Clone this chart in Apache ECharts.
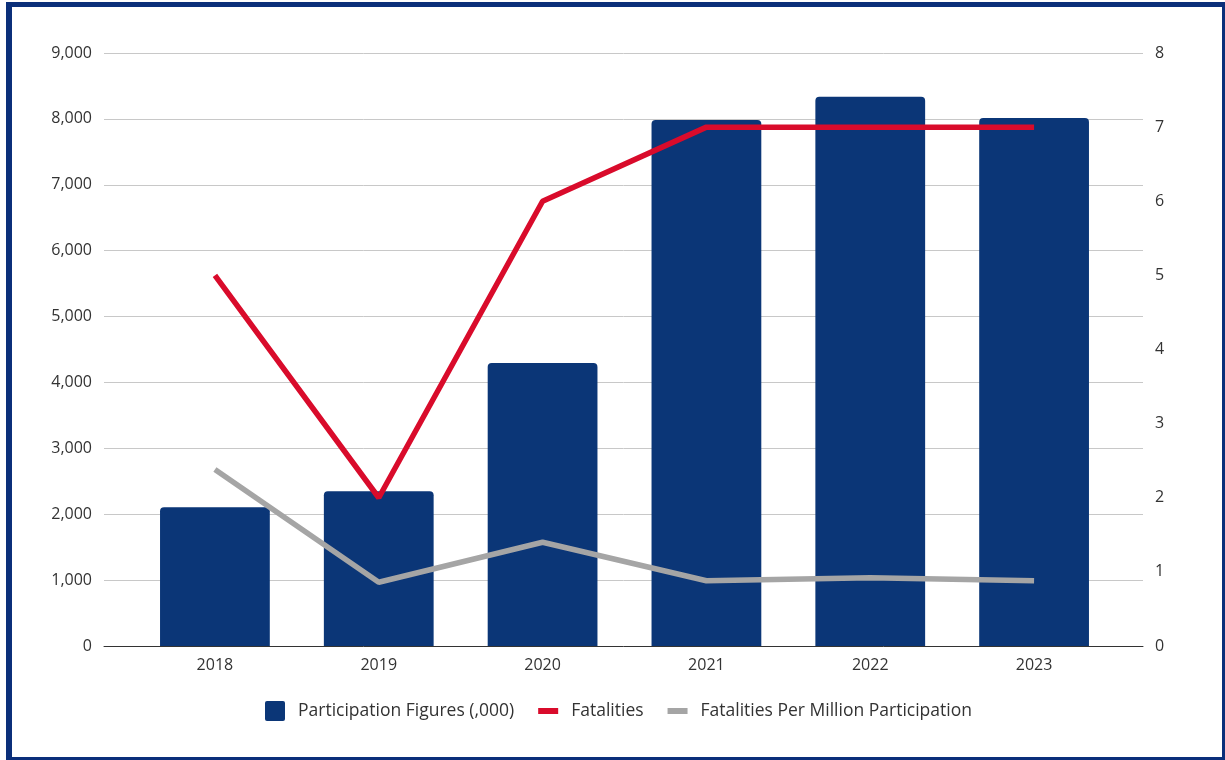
<!DOCTYPE html>
<html>
<head>
<meta charset="utf-8">
<script src="https://cdn.jsdelivr.net/npm/echarts@6/dist/echarts.min.js"></script>
<style>
html,body{margin:0;padding:0;background:#fff;overflow:hidden;}
#wrap{position:relative;width:1225px;height:760px;overflow:hidden;}
#chart{position:absolute;left:0;top:0;width:1225px;height:760px;}
#frame{position:absolute;left:6px;top:2px;width:1210px;height:750px;border-style:solid;border-color:#0b2f7a;border-width:5px 5px 5px 6px;pointer-events:none;}
</style>
</head>
<body>
<div id="wrap"><div id="chart"></div><div id="frame"></div></div>
<script>
const categories = ['2018','2019','2020','2021','2022','2023'];
const participation = [2105, 2350, 4295, 7985, 8335, 8015];
const fatalities = [5, 2, 6, 7, 7, 7];
const perMillion = [2.38, 0.86, 1.40, 0.88, 0.92, 0.88];
const leftTicks = {min: 0, max: 9000, interval: 1000};
const rightTicks = {min: 0, max: 8, interval: 1};

const FONT = 'Open Sans';
const chart = echarts.init(document.getElementById('chart'));
chart.setOption({
  animation: false,
  textStyle: {fontFamily: FONT},
  grid: [
    {left: 133, right: 109, top: 53, bottom: 114},
    {left: 104, right: 82, top: 53, bottom: 114}
  ],
  legend: {
    bottom: 34, left: 260,
    itemWidth: 20, itemHeight: 20, itemGap: 24,
    textStyle: {fontSize: 17.5, color: '#333', fontFamily: FONT, padding: [0,0,0,8]},
    data: [
      {name: 'Participation Figures (,000)', icon: 'path://M2,0 L18,0 Q20,0 20,2 L20,18 Q20,20 18,20 L2,20 Q0,20 0,18 L0,2 Q0,0 2,0 Z'},
      {name: 'Fatalities', icon: 'path://M0,0 L20,0 L20,6 L0,6 Z'},
      {name: 'Fatalities Per Million Participation', icon: 'path://M0,0 L20,0 L20,6 L0,6 Z'}
    ]
  },
  xAxis: [
    {type: 'category', gridIndex: 0, data: categories, boundaryGap: true,
     axisLine: {show: false}, axisTick: {show: false},
     axisLabel: {fontSize: 16, color: '#333', margin: 11, fontFamily: FONT}},
    {type: 'value', gridIndex: 1, min: 0, max: 1, show: true,
     axisLine: {show: true, onZero: false, lineStyle: {color: '#333', width: 1}},
     axisTick: {show: false}, axisLabel: {show: false}, splitLine: {show: false}}
  ],
  yAxis: [
    {type: 'value', gridIndex: 0, position: 'left', min: leftTicks.min, max: leftTicks.max, interval: leftTicks.interval,
     axisLine: {show: false}, axisTick: {show: false}, splitLine: {show: false},
     axisLabel: {fontSize: 16, color: '#333', margin: 41, fontFamily: FONT,
       formatter: v => v.toLocaleString('en-US')}},
    {type: 'value', gridIndex: 0, position: 'right', min: rightTicks.min, max: rightTicks.max, interval: rightTicks.interval,
     axisLine: {show: false}, axisTick: {show: false}, splitLine: {show: false},
     axisLabel: {fontSize: 16, color: '#333', margin: 39, fontFamily: FONT}},
    {type: 'value', gridIndex: 1, min: leftTicks.min, max: leftTicks.max, interval: leftTicks.interval,
     axisLine: {show: false}, axisTick: {show: false}, axisLabel: {show: false},
     splitLine: {show: true, lineStyle: {color: '#c8c8c8', width: 1}}}
  ],
  series: [
    {name: 'Participation Figures (,000)', type: 'bar', xAxisIndex: 0, yAxisIndex: 0,
     data: participation, barWidth: '67%',
     itemStyle: {color: '#0b3677', borderRadius: [4,4,0,0]}},
    {name: 'Fatalities', type: 'line', xAxisIndex: 0, yAxisIndex: 1,
     data: fatalities, symbol: 'none', z: 4,
     lineStyle: {color: '#d90b2b', width: 5.5}, itemStyle: {color: '#d90b2b'}},
    {name: 'Fatalities Per Million Participation', type: 'line', xAxisIndex: 0, yAxisIndex: 1,
     data: perMillion, symbol: 'none', z: 3,
     lineStyle: {color: '#a5a5a5', width: 5.5}, itemStyle: {color: '#a5a5a5'}}
  ]
});
</script>
</body>
</html>
